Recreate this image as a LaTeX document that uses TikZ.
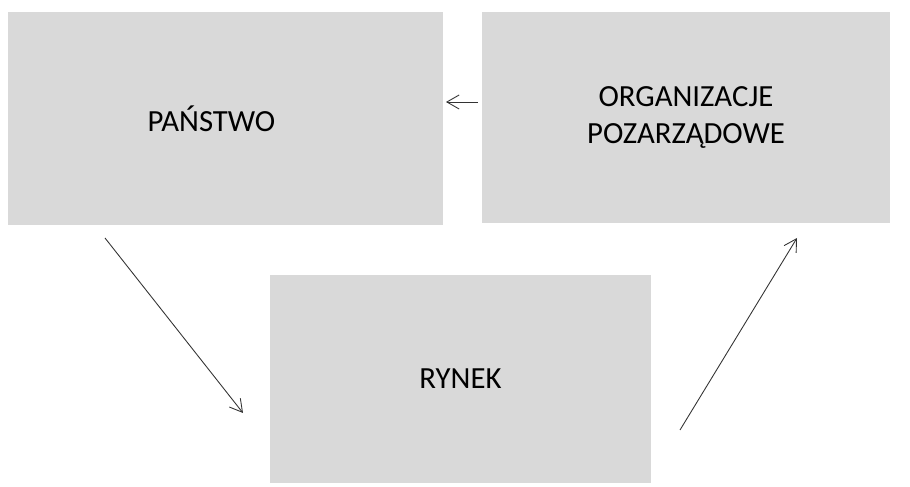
\documentclass[tikz,border=0pt]{standalone}
\usepackage{fontspec}
\setmainfont{Carlito}
\usetikzlibrary{positioning, arrows.meta}
\definecolor{boxgray}{RGB}{217,217,217}
\tikzset{
  block/.style={fill=boxgray, inner sep=0pt, align=center, font=\fontsize{17.5}{21}\selectfont},
  flow/.style={draw=black!80, line width=0.5pt, -{Straight Barb[length=7pt,width=8pt]}}
}

\begin{document}
\begin{tikzpicture}
\useasboundingbox (0,0) rectangle (18.2,9.72);

% draw boxes
\node[block, minimum width=8.7cm, minimum height=4.26cm] (panstwo) at (4.51,7.35) {PAŃSTWO\hspace*{0.56cm}};
\node[block, minimum width=8.16cm, minimum height=4.22cm] (organizacje) at (13.72,7.37) {ORGANIZACJE\\POZARZĄDOWE};
\node[block, minimum width=7.62cm, minimum height=4.16cm] (rynek) at (9.21,2.14) {RYNEK};

% arrow ends
\coordinate (p1) at (2.10,4.96);
\coordinate (r1) at (4.86,1.46);
\coordinate (r2) at (13.60,1.12);
\coordinate (o1) at (15.94,4.96);
\coordinate (o2) at (9.56,7.68);
\coordinate (p2) at (8.92,7.68);

% draw arrows
\draw[flow] (p1) -- (r1);
\draw[flow] (r2) -- (o1);
\draw[flow] (o2) -- (p2);

\end{tikzpicture}
\end{document}
